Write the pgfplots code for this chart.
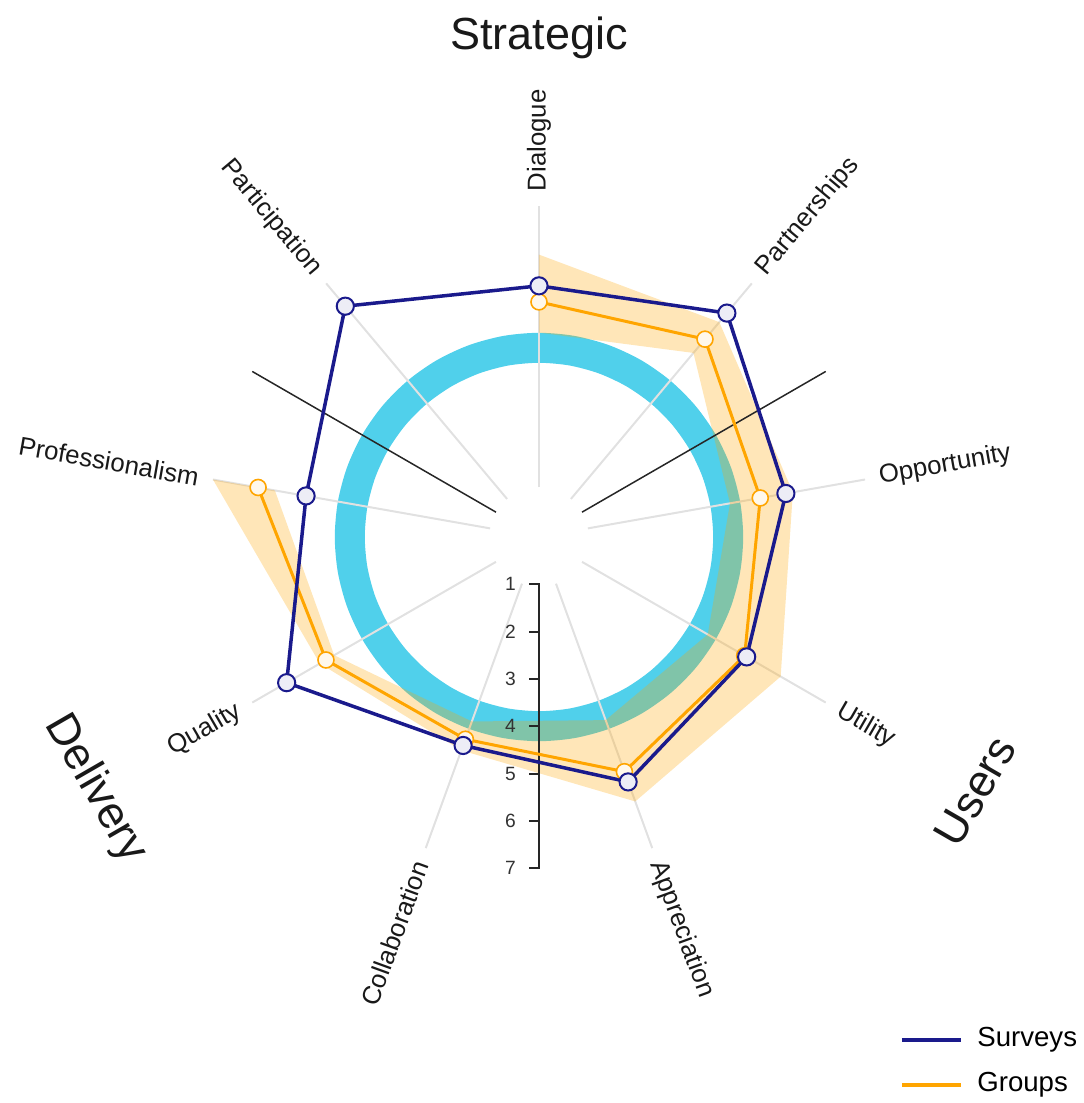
\documentclass[border=0pt]{standalone}
\usepackage{fontspec}
\setmainfont{Liberation Sans}
\usepackage{pgfplots}
\pgfplotsset{compat=1.18}
\definecolor{navy}{RGB}{26,26,140}
\definecolor{gorange}{RGB}{255,165,0}
\definecolor{ringcyan}{RGB}{80,208,235}
\definecolor{spoke}{RGB}{225,225,225}
\begin{document}
\begin{tikzpicture}
\begin{axis}[
  x=23.65pt, y=23.65pt,
  xmin=-11.395, xmax=11.522, ymin=-11.966, ymax=11.353,
  hide axis, clip=false, enlargelimits=false,
]
\path (rel axis cs:0,0) rectangle (rel axis cs:1,1);
% benchmark ring
\addplot[ringcyan, line width=15pt, smooth cycle, data cs=polar] coordinates {
(0,4) (10,4) (20,4) (30,4) (40,4) (50,4) (60,4) (70,4) (80,4) (90,4) (100,4) (110,4)
(120,4) (130,4) (140,4) (150,4) (160,4) (170,4) (180,4) (190,4) (200,4) (210,4) (220,4) (230,4)
(240,4) (250,4) (260,4) (270,4) (280,4) (290,4) (300,4) (310,4) (320,4) (330,4) (340,4) (350,4)};
% spokes
\pgfplotsinvokeforeach{90,50,10,-30,-70,-110,-150,170,130}{
  \addplot[spoke, line width=1pt, data cs=polar] coordinates {(#1,1.05) (#1,7)};
}
% Groups range band
\addplot[fill=gorange, fill opacity=0.28, draw=none, data cs=polar] coordinates {
 (90,5.97) (50,5.93) (10,5.45) (-30,5.9) (-70,5.95) (-110,4.8) (-150,5.35) (-190,7.0)
 (-190,5.67) (-150,5.0) (-110,4.15) (-70,4.12) (-30,4.12) (10,4.1) (50,5.08) (90,4.32)} -- cycle;
% dividers
\pgfplotsinvokeforeach{30,150}{
  \addplot[black!85, line width=0.75pt, data cs=polar] coordinates {(#1,1.05) (#1,7)};
}
% scale axis
\addplot[black!85, line width=1pt, data cs=polar] coordinates {(-90,1) (-90,7)};
\pgfplotsinvokeforeach{1,2,3,4,5,6,7}{
  \draw[black!85, line width=1pt] (axis cs:0.02,-#1) -- (axis cs:-0.22,-#1);
  \node[anchor=east, inner sep=0pt, font=\fontsize{9.6}{11}\selectfont, text=black!80] at (axis cs:-0.48,-#1) {#1};
}
% Groups
\addplot[gorange, line width=1.5pt, mark=*, mark size=4pt,
  mark options={fill=white!92!gorange, draw=gorange, line width=0.8pt}, data cs=polar] coordinates {
 (90,4.97) (50,5.46) (10,4.75) (-30,5.02) (-70,5.28) (-110,4.55) (-150,5.2) (-190,6.03)};
% Surveys
\addplot[navy, line width=1.75pt, mark=*, mark size=4.3pt,
  mark options={fill=white!92!navy, draw=navy, line width=1pt}, data cs=polar] coordinates {
 (90,5.31) (50,6.18) (10,5.30) (-30,5.07) (-70,5.51) (-110,4.69) (-150,6.16) (-190,5.0) (-230,6.37)} -- cycle;
% axis labels
\tikzset{lab/.style={inner sep=0pt, font=\fontsize{12.9}{15}\selectfont, text=black!90}}
\node[lab, rotate=90, anchor=west] at (axis cs:0,7.3) {Dialogue};
\node[lab, rotate=50, anchor=west] at (axis cs:4.692,5.592) {Partnerships};
\node[lab, rotate=10, anchor=west] at (axis cs:7.189,1.268) {Opportunity};
\node[lab, rotate=-30, anchor=west] at (axis cs:6.322,-3.65) {Utility};
\node[lab, rotate=-70, anchor=west] at (axis cs:2.497,-6.860) {Appreciation};
\node[lab, rotate=70, anchor=east] at (axis cs:-2.497,-6.860) {Collaboration};
\node[lab, rotate=30, anchor=east] at (axis cs:-6.322,-3.65) {Quality};
\node[lab, rotate=-10, anchor=east] at (axis cs:-7.189,1.268) {Professionalism};
\node[lab, rotate=-50, anchor=east] at (axis cs:-4.692,5.592) {Participation};
% group titles
\tikzset{grp/.style={inner sep=0pt, font=\fontsize{22.5}{27}\selectfont, text=black!90}}
\node[grp] at (axis cs:0,10.55) {Strategic};
\node[grp, rotate=60] at (axis cs:9.218,-5.37) {Users};
\node[grp, rotate=-60] at (axis cs:-9.387,-5.33) {Delivery};
% legend
\draw[navy, line width=2pt] (axis cs:7.67,-10.63) -- (axis cs:8.93,-10.63);
\node[anchor=west, inner sep=0pt, font=\fontsize{13.8}{16}\selectfont] at (axis cs:9.26,-10.63) {Surveys};
\draw[gorange, line width=2pt] (axis cs:7.67,-11.58) -- (axis cs:8.93,-11.58);
\node[anchor=west, inner sep=0pt, font=\fontsize{13.8}{16}\selectfont] at (axis cs:9.26,-11.58) {Groups};
\end{axis}
\end{tikzpicture}
\end{document}
